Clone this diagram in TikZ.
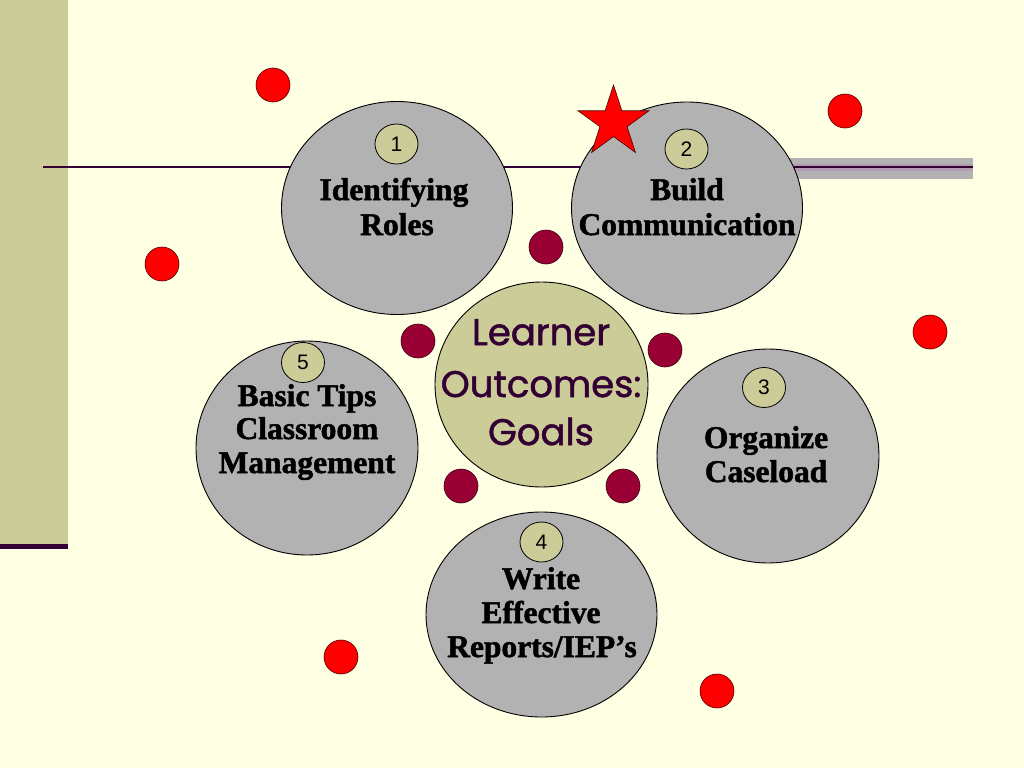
\documentclass[tikz,border=0pt]{standalone}
\usepackage{fontspec}
\setmainfont{Liberation Serif}
\newfontfamily\heavyfont[FakeBold=1.6]{Liberation Serif Bold}
\newfontfamily\numfont{Liberation Sans}
\newfontfamily\comicfont[FakeBold=1.4]{Poppins}
\usetikzlibrary{shapes.geometric}
\definecolor{bg}{HTML}{FFFFE3}
\definecolor{khaki}{HTML}{CCCC99}
\definecolor{plum}{HTML}{330033}
\definecolor{cgray}{HTML}{B2B2B2}
\definecolor{maroonc}{HTML}{990033}
\definecolor{lilac}{HTML}{B39BB3}
\tikzset{
 topic/.style={ellipse, draw=black, line width=0.9pt, fill=cgray, inner sep=0pt},
 numc/.style={ellipse, draw=black, line width=0.8pt, fill=khaki, inner sep=0pt, minimum width=43pt, minimum height=40pt, font=\numfont\fontsize{21}{21}\selectfont},
 lbl/.style={anchor=base, inner sep=0pt, font=\heavyfont\fontsize{31.5}{32}\selectfont},
 mdot/.style={circle, draw=black!60!maroonc, fill=maroonc, minimum size=34pt, inner sep=0pt, line width=0.6pt},
 rdot/.style={circle, draw=black!70!red, fill=red, minimum size=34pt, inner sep=0pt, line width=0.6pt},
 ctext/.style={anchor=base, inner sep=0pt, text=plum, font=\comicfont\fontsize{37}{37}\selectfont},
}
\begin{document}
\begin{tikzpicture}[x=1pt,y=-1pt]
\fill[bg] (0,0) rectangle (1024,768);
\useasboundingbox (0,0) rectangle (1024,768);
% left panel and rules
\fill[khaki] (0,0) rectangle (68,544);
\fill[plum] (0,544) rectangle (68,549);
\fill[cgray] (760,158) rectangle (973,179);
\fill[lilac] (760,163.5) rectangle (973,170.5);
\draw[plum, line width=2.2pt] (43,167) -- (973,167);
% topic ellipses
\node[topic, minimum width=231pt, minimum height=213pt] (c1) at (397,208) {};
\node[topic, minimum width=231pt, minimum height=212pt] (c2) at (687,208) {};
\node[topic, minimum width=222pt, minimum height=214pt] (c3) at (768,456) {};
\node[topic, minimum width=231pt, minimum height=205pt] (c4) at (541.5,614.5) {};
\node[topic, minimum width=222pt, minimum height=214pt] (c5) at (307,448) {};
\node[topic, fill=khaki, minimum width=213pt, minimum height=205pt] (c0) at (541.5,384.5) {};
% number badges
\node[numc] (n1) at (396.5,144) {1};
\node[numc] (n2) at (686.5,149) {2};
\node[numc] (n3) at (764,387.5) {3};
\node[numc] (n4) at (541.5,542) {4};
\node[numc] (n5) at (303,362.5) {5};
% labels
\node[lbl] (t1a) at (394,200) {Identifying};
\node[lbl] (t1b) at (397,235) {Roles};
\node[lbl] (t2a) at (687,200) {Build};
\node[lbl] (t2b) at (687,235) {Communication};
\node[lbl] (t3a) at (766,448) {Organize};
\node[lbl] (t3b) at (766,482) {Caseload};
\node[lbl] (t4a) at (541,589) {Write};
\node[lbl] (t4b) at (541,623) {Effective};
\node[lbl] (t4c) at (542,657) {Reports/IEP’s};
\node[lbl] (t5a) at (307,406) {Basic Tips};
\node[lbl] (t5b) at (307,439) {Classroom};
\node[lbl] (t5c) at (307,473) {Management};
\node[ctext] (m1) at (541,345) {Learner};
\node[ctext] (m2) at (541,397) {Outcomes:};
\node[ctext] (m3) at (541,445) {Goals};
% maroon dots
\node[mdot] (d1) at (546,247) {};
\node[mdot] (d2) at (418,341) {};
\node[mdot] (d3) at (665,350) {};
\node[mdot] (d4) at (461,486) {};
\node[mdot] (d5) at (623,486) {};
% red dots
\node[rdot] (r1) at (273,85) {};
\node[rdot] (r2) at (162,264) {};
\node[rdot] (r3) at (845,111) {};
\node[rdot] (r4) at (930,332) {};
\node[rdot] (r5) at (341,657) {};
\node[rdot] (r6) at (717,691) {};
% star
\node[star, star points=5, star point ratio=2.618, minimum size=74.6pt, inner sep=0pt, fill=red, draw=black!70!red, line width=0.6pt] (star) at (613.5,122.3) {};
\end{tikzpicture}
\end{document}
